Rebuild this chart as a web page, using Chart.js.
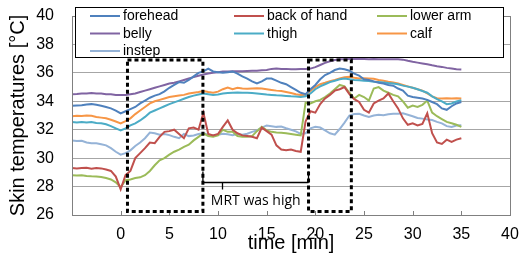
<!DOCTYPE html>
<html>
<head>
<meta charset="utf-8">
<title>Skin temperatures</title>
<style>
  html, body { margin: 0; padding: 0; background: #fff; }
</style>
</head>
<body>
<canvas id="myChart" width="520" height="255"></canvas>

<script src="https://cdn.jsdelivr.net/npm/chart.js"></script>
<script>
// time [min], one reading every half minute
const times = [-5, -4.5, -4, -3.5, -3, -2.5, -2, -1.5, -1, -0.5,
    0, 0.5, 1, 1.5, 2, 2.5, 3, 3.5, 4, 4.5,
    5, 5.5, 6, 6.5, 7, 7.5, 8, 8.5, 9, 9.5,
    10, 10.5, 11, 11.5, 12, 12.5, 13, 13.5, 14, 14.5,
    15, 15.5, 16, 16.5, 17, 17.5, 18, 18.5, 19, 19.5,
    20, 20.5, 21, 21.5, 22, 22.5, 23, 23.5, 24, 24.5,
    25, 25.5, 26, 26.5, 27, 27.5, 28, 28.5, 29, 29.5,
    30, 30.5, 31, 31.5, 32, 32.5, 33, 33.5, 34, 34.5, 35];

// skin temperatures [°C]
const forehead = [33.68, 33.7, 33.72, 33.78, 33.8, 33.75, 33.68, 33.6, 33.5, 33.35,
    33.15, 33.3, 33.45, 33.6, 33.85, 34.05, 34.25, 34.4, 34.5, 34.7,
    34.95, 35.15, 35.35, 35.3, 35.5, 35.75, 36.0, 36.1, 36.3, 36.1,
    36.05, 36.0, 36.05, 36.1, 35.95, 35.75, 35.6, 35.4, 35.25, 35.4,
    35.6, 35.6, 35.45, 35.3, 35.2, 35.0, 34.8, 34.6, 34.5, 34.85,
    35.15, 35.55, 35.85, 36.0, 36.2, 36.3, 36.25, 36.15, 35.95, 35.8,
    35.55, 35.5, 35.4, 35.3, 35.25, 35.15, 35.1, 34.9, 34.75, 34.4,
    34.3, 34.25, 34.2, 34.1, 33.95, 33.8, 33.5, 33.4, 33.65, 33.85, 33.95];
const backOfHand = [29.3, 29.28, 29.3, 29.32, 29.25, 29.3, 29.28, 29.2, 29.1, 28.7,
    27.8, 28.8, 29.1, 30.0, 30.35, 30.7, 31.1, 31.05, 31.5, 31.85,
    31.9, 32.0, 31.7, 31.4, 32.1, 32.15, 32.0, 33.2, 31.7, 31.6,
    31.7, 32.2, 32.65, 32.0, 31.75, 31.6, 31.55, 31.5, 31.4, 32.15,
    31.9, 31.65, 30.9, 30.6, 30.55, 30.6, 30.5, 30.45, 32.6, 33.3,
    33.2, 33.8, 34.2, 34.45, 34.75, 34.85, 35.0, 34.5, 34.15, 33.95,
    33.4, 33.2, 33.85, 34.05, 34.2, 34.55, 34.0, 33.5, 32.8, 32.35,
    32.45, 32.3, 32.4, 33.15, 31.75, 31.1, 31.0, 31.3, 31.15, 31.3, 31.4];
const lowerArm = [28.8, 28.78, 28.8, 28.75, 28.72, 28.7, 28.68, 28.6, 28.5, 28.3,
    27.95, 28.45, 28.5, 28.6, 28.65, 28.8, 29.1, 29.5, 29.85, 30.0,
    30.25, 30.45, 30.6, 30.8, 30.95, 31.25, 31.5, 31.75, 31.55, 31.5,
    31.6, 32.0, 31.85, 31.85, 31.55, 31.5, 31.5, 31.55, 31.9, 32.2,
    31.95, 31.85, 31.8, 31.78, 31.75, 31.7, 31.65, 31.6, 33.9, 33.85,
    34.0, 34.1, 34.3, 34.55, 34.85, 35.15, 35.05, 34.6, 34.2, 34.45,
    34.3, 34.05, 34.9, 35.0, 34.75, 34.6, 34.45, 34.35, 34.0, 33.55,
    33.7, 33.6, 33.75, 34.05, 33.2, 32.95, 32.75, 32.55, 32.45, 32.35, 32.2];
const belly = [34.5, 34.52, 34.55, 34.55, 34.58, 34.55, 34.55, 34.5, 34.5, 34.45,
    34.45, 34.45, 34.5, 34.55, 34.65, 34.75, 34.85, 34.95, 35.05, 35.15,
    35.25, 35.3, 35.4, 35.5, 35.6, 35.7, 35.8, 35.88, 35.95, 36.0,
    36.05, 36.1, 36.1, 36.12, 36.12, 36.12, 36.13, 36.14, 36.15, 36.18,
    36.2, 36.28, 36.3, 36.28, 36.28, 36.25, 36.25, 36.27, 36.28, 36.3,
    36.4, 36.55, 36.7, 36.82, 36.9, 36.95, 36.95, 36.97, 36.97, 36.98,
    36.97, 36.96, 36.97, 36.96, 36.95, 36.95, 36.95, 36.95, 36.93, 36.85,
    36.78, 36.72, 36.66, 36.6, 36.53, 36.47, 36.42, 36.35, 36.3, 36.25, 36.23];
const thigh = [32.55, 32.5, 32.55, 32.5, 32.55, 32.48, 32.45, 32.38, 32.25, 32.1,
    31.95, 32.1, 32.3, 32.45, 32.65, 32.9, 33.2, 33.35, 33.5, 33.65,
    33.8, 33.92, 34.05, 34.18, 34.3, 34.4, 34.48, 34.55, 34.5, 34.45,
    34.48, 34.55, 34.58, 34.6, 34.62, 34.6, 34.6, 34.58, 34.55, 34.52,
    34.48, 34.45, 34.42, 34.4, 34.38, 34.35, 34.33, 34.3, 34.35, 34.55,
    34.85, 35.05, 35.2, 35.35, 35.45, 35.55, 35.6, 35.55, 35.5, 35.48,
    35.45, 35.42, 35.38, 35.35, 35.32, 35.28, 35.25, 35.2, 35.1, 35.03,
    34.95, 34.85, 34.72, 34.6, 34.35, 34.15, 34.0, 33.8, 33.85, 33.98, 34.08];
const calf = [32.95, 32.98, 32.97, 33.0, 32.98, 32.9, 32.85, 32.8, 32.7, 32.58,
    32.45, 32.6, 32.8, 33.1, 33.35, 33.6, 33.85, 34.0, 34.1, 34.2,
    34.3, 34.35, 34.4, 34.45, 34.55, 34.6, 34.65, 34.72, 34.65, 34.6,
    34.68, 34.85, 34.97, 34.85, 34.95, 34.9, 34.88, 34.9, 34.92, 34.9,
    34.85, 34.8, 34.75, 34.72, 34.65, 34.58, 34.5, 34.45, 34.45, 34.75,
    35.0, 35.2, 35.3, 35.42, 35.5, 35.6, 35.7, 35.72, 35.65, 35.6,
    35.62, 35.6, 35.58, 35.5, 35.45, 35.38, 35.32, 35.25, 35.15, 35.05,
    34.95, 34.85, 34.75, 34.55, 34.35, 34.22, 34.2, 34.22, 34.2, 34.22, 34.2];
const instep = [31.25, 31.2, 31.22, 31.1, 31.05, 31.05, 30.98, 30.9, 30.7, 30.45,
    30.25, 30.35, 30.55, 30.85, 31.1, 31.4, 31.8, 31.75, 31.65, 31.7,
    31.62, 31.5, 31.4, 31.7, 31.55, 31.6, 31.7, 31.75, 31.65, 31.6,
    31.65, 31.72, 31.68, 31.62, 31.7, 31.65, 31.72, 31.85, 31.95, 32.15,
    32.3, 32.25, 32.2, 32.22, 32.1, 32.0, 31.88, 31.7, 31.75, 32.1,
    32.2, 32.15, 31.95, 31.75, 31.65, 32.05, 32.5, 33.0, 33.1, 33.12,
    33.0, 32.9, 33.0, 33.05, 33.02, 33.08, 33.12, 33.12, 33.15, 33.05,
    32.95, 32.82, 32.78, 32.72, 32.68, 32.55, 32.45, 32.25, 32.2, 32.3, 32.32];

const seriesNames = ['forehead', 'back of hand', 'lower arm', 'belly', 'thigh', 'calf', 'instep'];
const seriesValues = [forehead, backOfHand, lowerArm, belly, thigh, calf, instep];
const seriesColors = ['#4F81BD', '#C0504D', '#9BBB59', '#8064A2', '#4BACC6', '#F79646', '#95B3D7'];

const xTickValues = [0, 5, 10, 15, 20, 25, 30, 35, 40];

// the two dotted windows (minutes) and the "MRT was high" ruler
const highPeriods = [[0.7, 8.45], [19.3, 23.7]];
const highBoxTemps = [26.25, 36.9];
const mrtSpan = [8.45, 19.3];
const mrtTemp = 28.32;
const mrtText = 'MRT was high';

const datasets = seriesNames.map((name, i) => ({
    label: name,
    data: times.map((t, j) => ({ x: t, y: seriesValues[i][j] })),
    borderColor: seriesColors[i],
    backgroundColor: seriesColors[i],
    borderWidth: 2,
    pointRadius: 0,
    tension: 0
}));

const overlay = {
    id: 'overlay',
    afterDatasetsDraw(chart) {
        const ctx = chart.ctx;
        const a = chart.chartArea;
        const x = chart.scales.x;
        const y = chart.scales.y;
        ctx.save();

        // plot frame + inside ticks
        ctx.strokeStyle = '#808080';
        ctx.lineWidth = 1;
        ctx.strokeRect(Math.round(a.left) + 0.5, Math.round(a.top) + 0.5,
            Math.round(a.right - a.left), Math.round(a.bottom - a.top));
        ctx.beginPath();
        xTickValues.forEach(v => {
            const px = Math.round(x.getPixelForValue(v)) + 0.5;
            ctx.moveTo(px, a.bottom);
            ctx.lineTo(px, a.bottom - 4);
        });
        ctx.stroke();

        // dotted boxes
        ctx.strokeStyle = '#000';
        ctx.lineWidth = 3;
        ctx.setLineDash([4, 3]);
        highPeriods.forEach(p => {
            const x0 = x.getPixelForValue(p[0]);
            const x1 = x.getPixelForValue(p[1]);
            const yT = y.getPixelForValue(highBoxTemps[1]);
            const yB = y.getPixelForValue(highBoxTemps[0]);
            ctx.strokeRect(x0, yT, x1 - x0, yB - yT);
        });
        ctx.setLineDash([]);

        // MRT ruler
        const mx0 = x.getPixelForValue(mrtSpan[0]);
        const mx1 = x.getPixelForValue(mrtSpan[1]);
        const my = Math.round(y.getPixelForValue(mrtTemp)) + 0.5;
        const mt = Math.round(x.getPixelForValue(10.4)) + 0.5;
        ctx.lineWidth = 1.3;
        ctx.beginPath();
        ctx.moveTo(mx0, my); ctx.lineTo(mx1, my);
        ctx.moveTo(mx0, my); ctx.lineTo(mx0, my - 11);
        ctx.moveTo(mx1, my); ctx.lineTo(mx1, my - 11);
        ctx.moveTo(mt, my); ctx.lineTo(mt, my + 7);
        ctx.stroke();
        ctx.fillStyle = '#000';
        ctx.font = '14px "Open Sans"';
        ctx.textAlign = 'center';
        ctx.textBaseline = 'middle';
        ctx.fillText(mrtText, (mx0 + mx1) / 2, my + 19);

        // legend box
        ctx.fillStyle = '#fff';
        ctx.fillRect(75, 7, 428, 50);
        ctx.strokeStyle = '#000';
        ctx.lineWidth = 1;
        ctx.strokeRect(75.5, 7.5, 428, 50);
        const colX = [90, 234, 377];
        ctx.font = '14px "Liberation Sans"';
        ctx.textAlign = 'left';
        chart.data.datasets.forEach((ds, i) => {
            const cx = colX[i % 3];
            const cy = 16 + Math.floor(i / 3) * 17.5;
            ctx.strokeStyle = ds.borderColor;
            ctx.lineWidth = 2;
            ctx.beginPath();
            ctx.moveTo(cx, cy);
            ctx.lineTo(cx + 30, cy);
            ctx.stroke();
            ctx.fillStyle = '#000';
            ctx.fillText(ds.label, cx + 33, cy + 0.5);
        });

        ctx.restore();
    }
};

const myChart = new Chart(document.getElementById('myChart'), {
    type: 'line',
    data: { datasets: datasets },
    options: {
        responsive: false,
        animation: false,
        layout: { padding: { top: 16, right: 10, left: 0, bottom: 0 } },
        plugins: {
            legend: { display: false },
            tooltip: { enabled: false }
        },
        scales: {
            x: {
                type: 'linear',
                min: -5,
                max: 40,
                afterBuildTicks: s => { s.ticks = xTickValues.map(v => ({ value: v })); },
                afterFit: s => { s.height = 40; s.paddingLeft = 0; s.paddingRight = 0; },
                grid: { display: false, drawTicks: false },
                border: { display: false },
                ticks: {
                    color: '#000',
                    padding: 10,
                    maxRotation: 0,
                    font: { family: 'Liberation Sans', size: 16 }
                },
                title: {
                    display: true,
                    text: 'time [min]',
                    color: '#000',
                    padding: { top: 0, bottom: 0 },
                    font: { family: 'Liberation Sans', size: 20 }
                }
            },
            y: {
                min: 26,
                max: 40,
                afterFit: s => { s.width = 72; s.paddingTop = 0; s.paddingBottom = 0; },
                grid: { color: '#a6a6a6', drawTicks: false },
                border: { display: false },
                ticks: {
                    stepSize: 2,
                    color: '#000',
                    padding: 18,
                    font: { family: 'Liberation Sans', size: 16 }
                },
                title: {
                    display: true,
                    text: 'Skin temperatures [°C]',
                    color: '#000',
                    padding: { top: 6, bottom: 0 },
                    font: { family: 'Liberation Sans', size: 20 }
                }
            }
        }
    },
    plugins: [overlay]
});
</script>
</body>
</html>
